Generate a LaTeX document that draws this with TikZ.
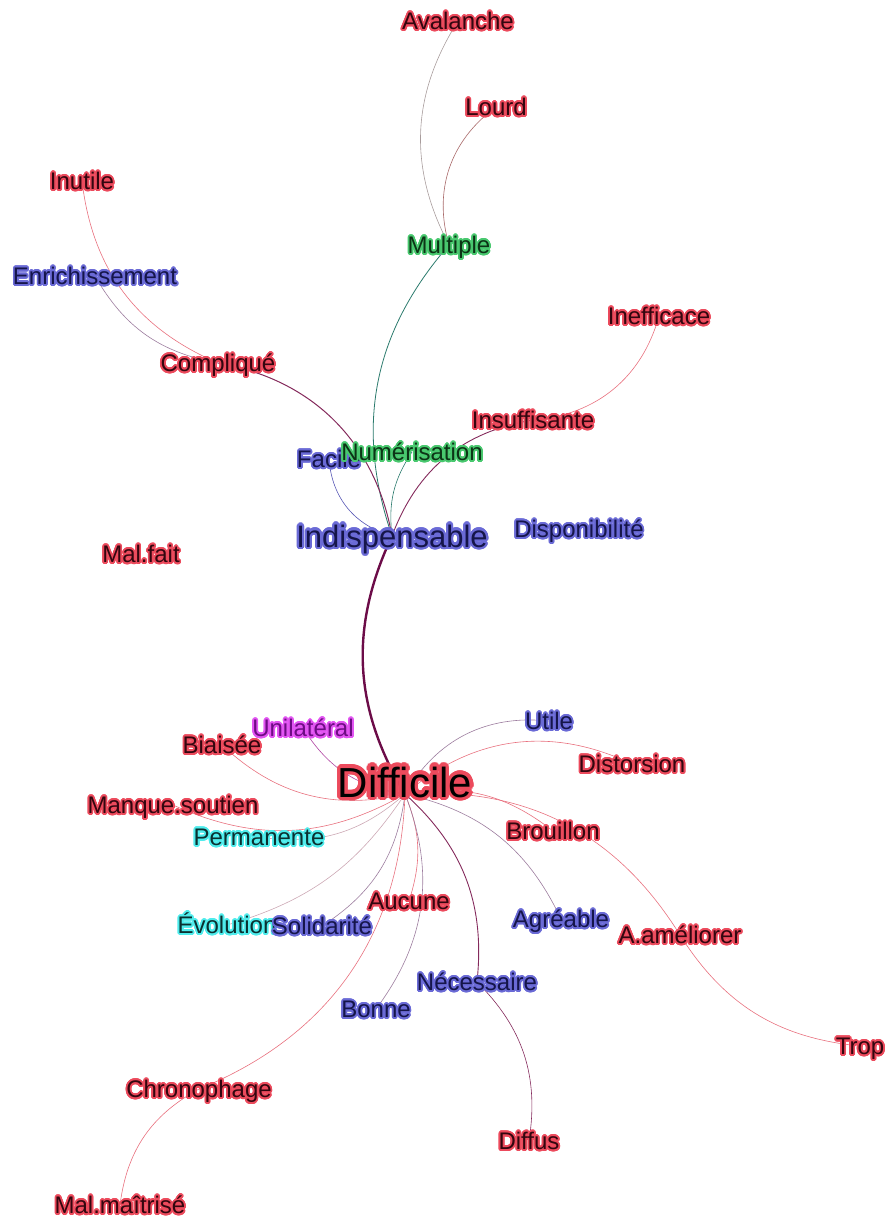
\documentclass[tikz,border=0pt]{standalone}
\usepackage{fontspec}
\setmainfont{Liberation Sans}
\usepackage{contour}
\usetikzlibrary{backgrounds}
\contourlength{1.7pt}
\contournumber{24}

% halo and ink colours of the word groups
\definecolor{haloRed}{HTML}{EC4A5C}
\definecolor{inkRed}{HTML}{33060F}
\definecolor{haloBlue}{HTML}{6A6AD6}
\definecolor{inkBlue}{HTML}{15154A}
\definecolor{haloGreen}{HTML}{48C86E}
\definecolor{inkGreen}{HTML}{0C3416}
\definecolor{haloCyan}{HTML}{4EECEC}
\definecolor{inkCyan}{HTML}{0A3030}
\definecolor{haloMag}{HTML}{E254F2}
\definecolor{inkMag}{HTML}{6E0C84}
% edge colours
\definecolor{edgeRed}{HTML}{E8707E}
\definecolor{edgePurple}{HTML}{842A5C}
\definecolor{edgeGrey}{HTML}{9C7C9E}
\definecolor{edgeHub}{HTML}{6C0C48}
\definecolor{edgeTeal}{HTML}{2A7A6C}
\definecolor{edgeBlue}{HTML}{5656B4}
\definecolor{edgeOlive}{HTML}{A89C9C}
\definecolor{edgeBrown}{HTML}{A86868}
\definecolor{edgeMag}{HTML}{B044A2}
\definecolor{edgePale}{HTML}{CCA8B4}

\newcommand{\redw}[1]{\contour{haloRed}{#1}}
\newcommand{\bluew}[1]{\contour{haloBlue}{#1}}
\newcommand{\greenw}[1]{\contour{haloGreen}{#1}}
\newcommand{\cyanw}[1]{\contour{haloCyan}{#1}}
\newcommand{\magw}[1]{\contour{haloMag}{#1}}

\tikzset{
  word/.style={inner sep=0pt,text height=17.2pt,text depth=0pt,
    font=\fontsize{24}{28}\selectfont},
  redword/.style={word,text=inkRed},
  blueword/.style={word,text=inkBlue},
  greenword/.style={word,text=inkGreen},
  cyanword/.style={word,text=inkCyan},
  magword/.style={word,text=inkMag},
  link/.style={line width=0.6pt,draw=#1,bend right=30},
  link/.default=edgeRed,
}

\begin{document}
\begin{tikzpicture}[x=1pt,y=-1pt]
  \useasboundingbox (0,0) rectangle (887,1220);

  % upper cluster
  \node[redword]   (avalanche)  at (458,21)   {\redw{Avalanche}};
  \node[redword]   (lourd)      at (496,107)  {\redw{Lourd}};
  \node[redword]   (inutile)    at (82,181)   {\redw{Inutile}};
  \node[greenword] (multiple)   at (449,245)  {\greenw{Multiple}};
  \node[blueword]  (enrich)     at (95,276)   {\bluew{Enrichissement}};
  \node[redword]   (inefficace) at (659,316)  {\redw{Inefficace}};
  \node[redword]   (complique)  at (218,363)  {\redw{Compliqué}};
  \node[redword]   (insuff)     at (533,420)  {\redw{Insuffisante}};
  \node[blueword]  (facile)     at (329,459)  {\bluew{Facile}};
  \node[greenword] (numer)      at (412,452)  {\greenw{Numérisation}};
  \node[word,text=inkBlue,text height=22.2pt,font=\fontsize{31}{35}\selectfont]
                   (indisp)     at (392,536)  {\contourlength{2.2pt}\bluew{Indispensable}};
  \node[blueword]  (dispo)      at (579,529)  {\bluew{Disponibilité}};
  \node[redword]   (malfait)    at (141,554)  {\redw{Mal.fait}};

  % lower cluster
  \node[magword]   (unilat)     at (303,728)  {\magw{Unilatéral}};
  \node[blueword]  (utile)      at (549,721)  {\bluew{Utile}};
  \node[redword]   (biaisee)    at (222,745)  {\redw{Biaisée}};
  \node[word,text=black,text height=6pt,font=\fontsize{42}{46}\selectfont]
                   (difficile)  at (405,794)  {\contourlength{3.2pt}\redw{Difficile}};
  \node[redword]   (distorsion) at (632,764)  {\redw{Distorsion}};
  \node[redword]   (manque)     at (173,805)  {\redw{Manque.soutien}};
  \node[cyanword]  (permanente) at (259,837)  {\cyanw{Permanente}};
  \node[redword]   (brouillon)  at (553,831)  {\redw{Brouillon}};
  \node[redword]   (aucune)     at (409,901)  {\redw{Aucune}};
  \node[cyanword]  (evolution)  at (227,925)  {\cyanw{Évolution}};
  \node[blueword]  (solidarite) at (322,926)  {\bluew{Solidarité}};
  \node[blueword]  (agreable)   at (561,919)  {\bluew{Agréable}};
  \node[redword]   (ameliorer)  at (680,935)  {\redw{A.améliorer}};
  \node[blueword]  (necessaire) at (477,982)  {\bluew{Nécessaire}};
  \node[blueword]  (bonne)      at (376,1009) {\bluew{Bonne}};
  \node[redword]   (trop)       at (860,1046) {\redw{Trop}};
  \node[redword]   (chrono)     at (199,1089) {\redw{Chronophage}};
  \node[redword]   (diffus)     at (529,1141) {\redw{Diffus}};
  \node[redword]   (malmaitrise) at (120,1205) {\redw{Mal.maîtrisé}};

  \begin{pgfonlayer}{background}
    % around Indispensable
    \draw[link=edgeOlive] (avalanche.center) to (multiple.center);
    \draw[link=edgeBrown,bend right=35] (lourd.center) to (multiple.center);
    \draw[link=edgeTeal,line width=0.8pt] (multiple.center) to (indisp.center);
    \draw[link] (inutile.center) to (complique.center);
    \draw[link=edgeGrey,bend right=25] (enrich.center) to (complique.center);
    \draw[link=edgePurple,line width=1pt,bend right=35] (indisp.center) to (complique.center);
    \draw[link=edgeBlue,bend right=35] (facile.center) to (indisp.center);
    \draw[link=edgeTeal,bend right=20] (numer.center) to (indisp.center);
    \draw[link=edgePurple,line width=0.9pt] (insuff.center) to (indisp.center);
    \draw[link,bend right=35] (insuff.center) to (inefficace.center);
    \draw[link=edgeHub,line width=2.4pt,bend right=28] (indisp.center) to (difficile.center);
    % around Difficile
    \draw[link=edgeMag,bend right=25] (unilat.center) to (difficile.center);
    \draw[link,bend right=28] (biaisee.center) to (difficile.center);
    \draw[link,bend right=27] (manque.center) to (difficile.center);
    \draw[link=edgePale,bend right=25] (permanente.center) to (difficile.center);
    \draw[link=edgePale,bend right=20] (evolution.center) to (difficile.center);
    \draw[link=edgeGrey,bend right=25] (solidarite.center) to (difficile.center);
    \draw[link,bend right=20] (aucune.center) to (difficile.center);
    \draw[link,bend right=33] (chrono.center) to (difficile.center);
    \draw[link=edgeGrey,bend right=29] (bonne.center) to (difficile.center);
    \draw[link=edgePurple,line width=0.9pt,bend right=27] (necessaire.center) to (difficile.center);
    \draw[link=edgePurple,bend right=27] (diffus.center) to (necessaire.center);
    \draw[link=edgeGrey,bend right=26] (agreable.center) to (difficile.center);
    \draw[link,bend right=24] (brouillon.center) to (difficile.center);
    \draw[link,bend right=31] (ameliorer.center) to (difficile.center);
    \draw[link,bend right=26] (ameliorer.center) to (trop.center);
    \draw[link=edgeGrey,bend right=33] (utile.center) to (difficile.center);
    \draw[link,bend right=33] (distorsion.center) to (difficile.center);
    \draw[link,bend right=27] (chrono.center) to (malmaitrise.center);
  \end{pgfonlayer}
\end{tikzpicture}
\end{document}
